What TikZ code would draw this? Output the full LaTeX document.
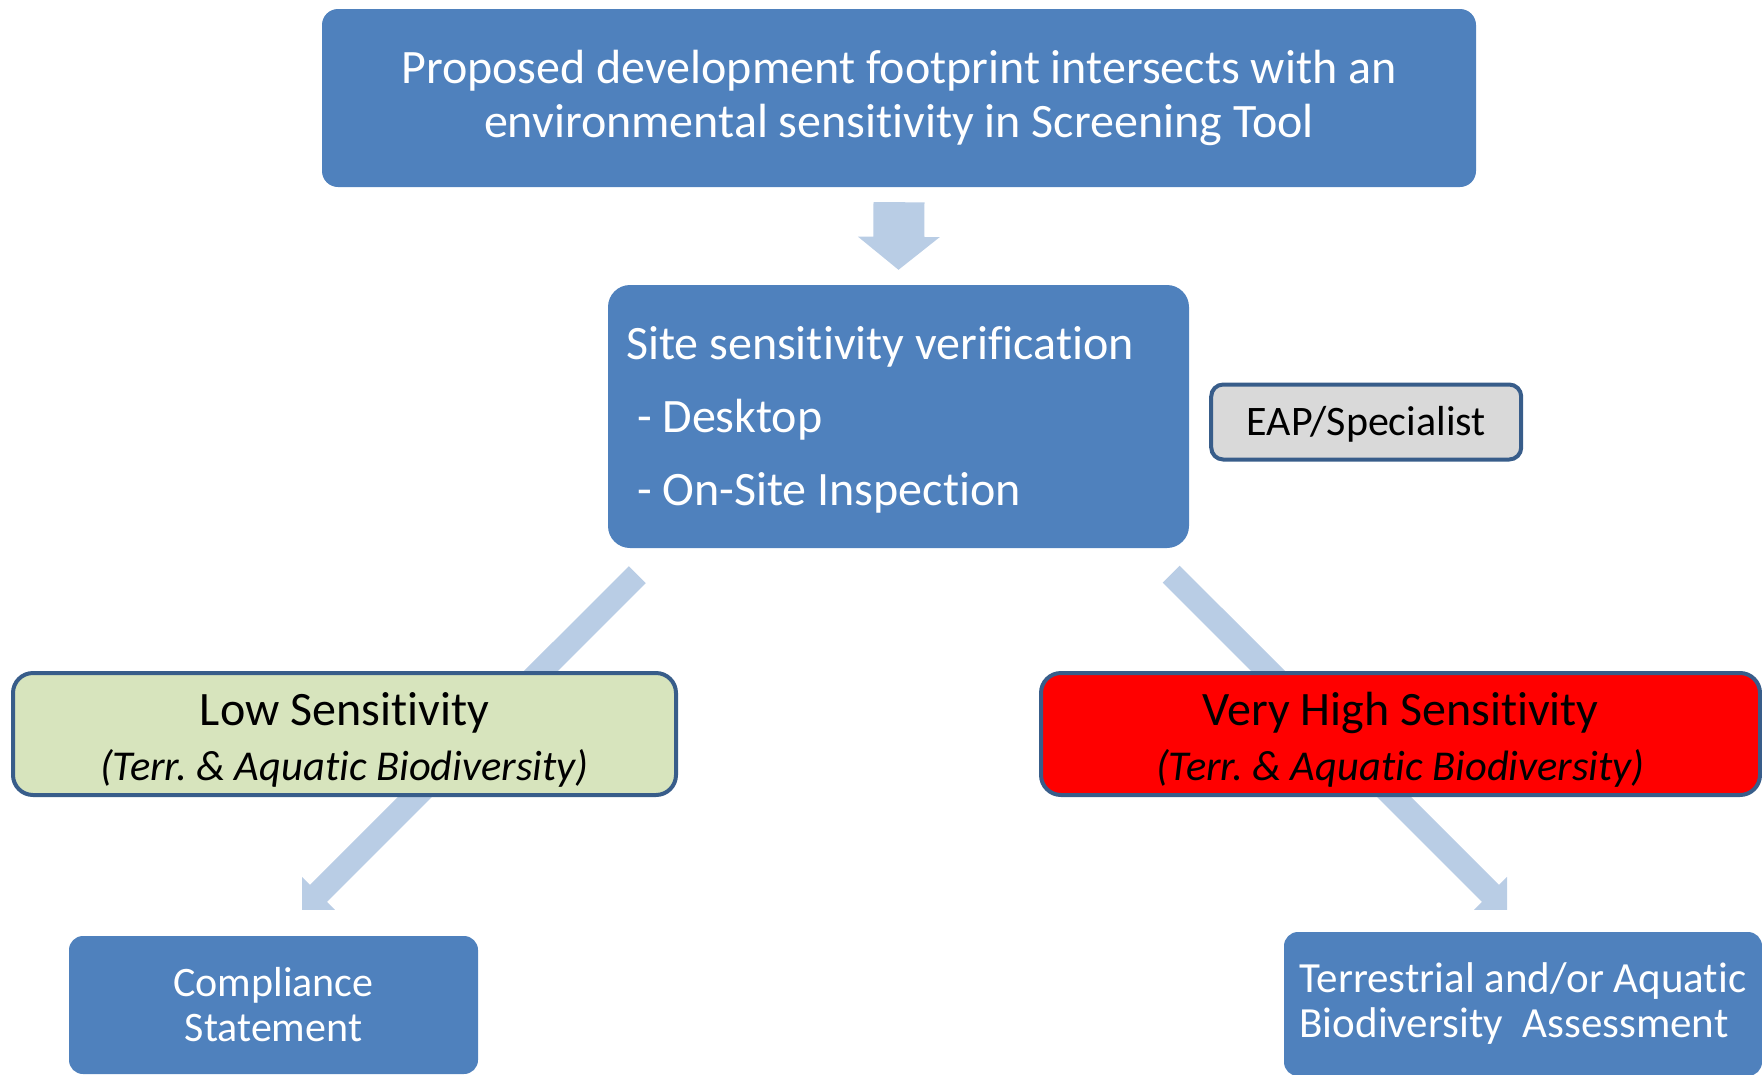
\documentclass[tikz,border=0pt]{standalone}
\usepackage{fontspec}
\setmainfont{Carlito}[Ligatures=NoCommon]
\usetikzlibrary{positioning,calc,backgrounds}
\frenchspacing

\definecolor{boxblue}{HTML}{4F81BD}
\definecolor{edgeblue}{HTML}{385D8A}
\definecolor{arrowblue}{HTML}{B9CDE5}
\definecolor{lowgreen}{HTML}{D7E4BD}
\definecolor{eapgray}{HTML}{D9D9D9}

% block arrow: from, to, half shaft width, half head width, head length
\newcommand\blockarrow[5]{%
  \coordinate (ha) at ($(#2)!#5!(#1)$);
  \fill[arrowblue] ($(#1)!#3!90:(#2)$) -- ($(ha)!#3!90:(#2)$) -- ($(ha)!#4!90:(#2)$) -- (#2)
    -- ($(ha)!#4!-90:(#2)$) -- ($(ha)!#3!-90:(#2)$) -- ($(#1)!#3!-90:(#2)$) -- cycle;}
\newcommand\subline[1]{{\fontsize{42.5}{55}\selectfont\itshape #1}}

\begin{document}
\begin{tikzpicture}[x=1pt,y=-1pt,
  font=\fontsize{48}{54}\selectfont,
  execute at begin node={\spaceskip=0pt\xspaceskip=0pt\relax},
  blue box/.style={fill=boxblue,rounded corners=16pt,text=white,align=center,inner sep=0pt},
  sens box/.style={draw=edgeblue,line width=4pt,rounded corners=20pt,align=center,inner sep=0pt,
    font=\fontsize{48}{55}\selectfont,minimum height=122pt}]
\useasboundingbox (0,0) rectangle (1762,1074);
\node[blue box,minimum width=1154pt,minimum height=178pt] (prop) at (899,98)
  {Proposed development footprint intersects with an\\environmental sensitivity in Screening Tool};
\node[blue box,rounded corners=22pt,minimum width=581pt,minimum height=263pt,text width=545pt,
  align=left,font=\fontsize{48}{73}\selectfont] (site) at (898.5,416.5)
  {\rule{0pt}{40pt}Site sensitivity verification\\\hspace*{11pt}- Desktop\\\hspace*{11pt}- On-Site Inspection};
\node[sens box,fill=eapgray,rounded corners=12pt,minimum width=310pt,minimum height=75pt,
  font=\fontsize{42}{50}\selectfont,right=20pt of site,yshift=-5.5pt] (eap) {\rule{0pt}{34pt}EAP/Specialist};
\node[sens box,fill=lowgreen,minimum width=663pt] (low) at (344.5,734)
  {\rule{0pt}{45pt}Low Sensitivity\\\subline{(Terr. \& Aquatic Biodiversity)}};
\node[sens box,fill=red,minimum width=719pt] (vhigh) at (1400.5,734)
  {\rule{0pt}{45pt}Very High Sensitivity\\\subline{(Terr. \& Aquatic Biodiversity)}};
\node[blue box,rounded corners=14pt,minimum width=409pt,minimum height=138pt,
  font=\fontsize{42}{45}\selectfont] (comp) at (273.5,1005) {Compliance\\Statement};
\node[blue box,rounded corners=14pt,minimum width=478pt,minimum height=144pt,align=left,
  font=\fontsize{43}{45}\selectfont] (terr) at (1523,1004)
  {Terrestrial and/or Aquatic\\Biodiversity~ Assessment};

\begin{scope}[on background layer]
\coordinate (dn1) at ($(prop.south)+(0,15)$);
\coordinate (dn2) at ($(site.north)+(0,-15)$);
\blockarrow{dn1}{dn2}{25.5pt}{41pt}{33pt}
\coordinate (lf1) at ($(site.south west)+(29.5,26.5)$);
\coordinate (lf2) at ($(comp.north)+(28.5,-26)$);
\blockarrow{lf1}{lf2}{12pt}{23.3pt}{23.3pt}
\coordinate (rt1) at ($(site.south east)+(-18,26)$);
\coordinate (rt2) at ($(terr.north)+(-16,-22)$);
\blockarrow{rt1}{rt2}{12pt}{23.3pt}{23.3pt}
\end{scope}
\end{tikzpicture}
\end{document}
